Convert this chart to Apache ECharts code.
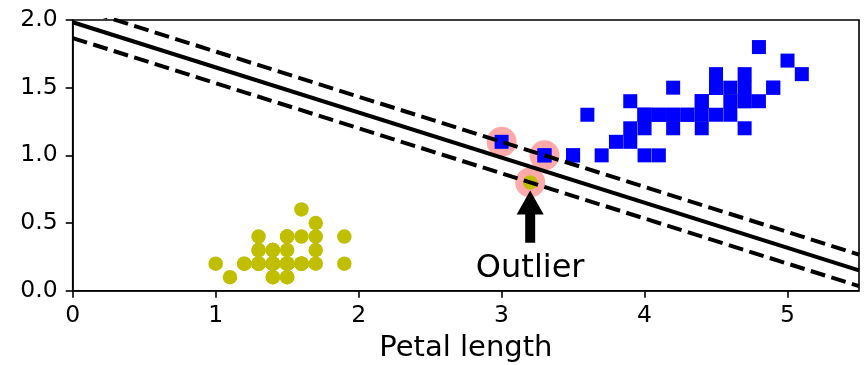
<!DOCTYPE html>
<html>
<head>
<meta charset="utf-8">
<script src="https://cdn.jsdelivr.net/npm/echarts@6/dist/echarts.min.js"></script>
<style>
  html, body { margin: 0; padding: 0; background: #ffffff; }
  #chart { width: 867px; height: 365px; }
</style>
</head>
<body>
<div id="chart"></div>
<script>
// Iris setosa: petal length / petal width (cm)
const setosaLength = [1.4,1.4,1.3,1.5,1.4,1.7,1.4,1.5,1.4,1.5,1.5,1.6,1.4,1.1,1.2,1.5,1.3,1.4,1.7,1.5,
                      1.7,1.5,1.0,1.7,1.9,1.6,1.6,1.5,1.4,1.6,1.6,1.5,1.5,1.4,1.5,1.2,1.3,1.4,1.3,1.5,
                      1.3,1.3,1.3,1.6,1.9,1.4,1.6,1.4,1.5,1.4];
const setosaWidth  = [0.2,0.2,0.2,0.2,0.2,0.4,0.3,0.2,0.2,0.1,0.2,0.2,0.1,0.1,0.2,0.4,0.4,0.3,0.3,0.3,
                      0.2,0.4,0.2,0.5,0.2,0.2,0.4,0.2,0.2,0.2,0.2,0.4,0.1,0.2,0.2,0.2,0.2,0.1,0.2,0.2,
                      0.3,0.3,0.2,0.6,0.4,0.3,0.2,0.2,0.2,0.2];

// Iris versicolor: petal length / petal width (cm)
const versicolorLength = [4.7,4.5,4.9,4.0,4.6,4.5,4.7,3.3,4.6,3.9,3.5,4.2,4.0,4.7,3.6,4.4,4.5,4.1,4.5,3.9,
                          4.8,4.0,4.9,4.7,4.3,4.4,4.8,5.0,4.5,3.5,3.8,3.7,3.9,5.1,4.5,4.5,4.7,4.4,4.1,4.0,
                          4.4,4.6,4.0,3.3,4.2,4.2,4.2,4.3,3.0,4.1];
const versicolorWidth  = [1.4,1.5,1.5,1.3,1.5,1.3,1.6,1.0,1.3,1.4,1.0,1.5,1.0,1.4,1.3,1.4,1.5,1.0,1.5,1.1,
                          1.8,1.3,1.5,1.2,1.3,1.4,1.4,1.7,1.5,1.0,1.1,1.0,1.2,1.6,1.5,1.6,1.5,1.3,1.3,1.3,
                          1.2,1.4,1.2,1.0,1.3,1.2,1.3,1.3,1.1,1.3];

// Extra point labelled as setosa
const outlier = [3.2, 0.8];

// Support vectors of the hard-margin linear SVM
const supportVectors = [[3.0, 1.1], [3.3, 1.0], [3.2, 0.8]];

// Linear SVM weights: w0*x + w1*y + b = 0 (boundary), = +/-1 (margins)
const svmW = [2.857, 8.571];
const svmB = -17.0;

// Annotation
const annotationText = 'Outlier';
const annotationTextPos = [3.2, 0.08];
const arrowTail = [3.2, 0.355];
const arrowTip = [3.2, 0.74];

// Axis ranges and ticks
const xRange = [0, 5.5];
const yRange = [0, 2.0];
const xTicks = [0, 1, 2, 3, 4, 5];
const yTicks = [0, 0.5, 1.0, 1.5, 2.0];

const FONT = 'DejaVu Sans';

function zip(a, b) { return a.map((v, i) => [v, b[i]]); }
function lineAt(offset) {
  // y such that w0*x + w1*y + b = offset, evaluated at the x-range ends
  return xRange.map(x => [x, (offset - svmB - svmW[0] * x) / svmW[1]]);
}

const chart = echarts.init(document.getElementById('chart'), null, { renderer: 'canvas' });

const axisCommon = {
  axisLine: { show: true, onZero: false, lineStyle: { color: '#000', width: 1.6 } },
  axisTick: { show: true, inside: false, length: 7, lineStyle: { color: '#000', width: 1.6 } },
  splitLine: { show: false },
};

chart.setOption({
  animation: false,
  backgroundColor: '#ffffff',
  grid: {
    left: 72.7, right: 8, top: 20, bottom: 74.3,
    containLabel: false, outerBoundsMode: 'none',
    show: true, borderColor: '#000', borderWidth: 1.6, backgroundColor: 'transparent'
  },
  xAxis: Object.assign({
    type: 'value', min: xRange[0], max: xRange[1], interval: 1,
    name: 'Petal length', nameLocation: 'middle', nameGap: 43,
    nameTextStyle: { fontFamily: FONT, fontSize: 29, color: '#000' },
    axisLabel: {
      customValues: xTicks, fontFamily: FONT, fontSize: 23.5, color: '#000', margin: 13,
      formatter: v => String(v)
    },
  }, axisCommon, {
    axisTick: Object.assign({}, axisCommon.axisTick, { customValues: xTicks })
  }),
  yAxis: Object.assign({
    type: 'value', min: yRange[0], max: yRange[1], interval: 0.5,
    axisLabel: {
      customValues: yTicks, fontFamily: FONT, fontSize: 23.5, color: '#000', margin: 15,
      formatter: v => v.toFixed(1)
    },
  }, axisCommon, {
    axisTick: Object.assign({}, axisCommon.axisTick, { customValues: yTicks })
  }),
  series: [
    {
      name: 'support vectors', type: 'scatter', z: 1,
      data: supportVectors, symbol: 'circle', symbolSize: 30,
      itemStyle: { color: '#FFAAAA', opacity: 1 }, silent: true
    },
    {
      name: 'versicolor', type: 'scatter', z: 2,
      data: zip(versicolorLength, versicolorWidth), symbol: 'rect', symbolSize: 14,
      itemStyle: { color: '#0000ff', opacity: 1 }, silent: true
    },
    {
      name: 'setosa', type: 'scatter', z: 2,
      data: zip(setosaLength, setosaWidth).concat([outlier]), symbol: 'circle', symbolSize: 14.5,
      itemStyle: { color: '#bfbf00', opacity: 1 }, silent: true
    },
    {
      name: 'decision boundary', type: 'line', z: 3, clip: true,
      data: lineAt(0), symbol: 'none', silent: true,
      lineStyle: { color: '#000', width: 4, type: 'solid' }
    },
    {
      name: 'upper margin', type: 'line', z: 3, clip: true,
      data: lineAt(1), symbol: 'none', silent: true,
      lineStyle: { color: '#000', width: 4, type: [15, 6.5], cap: 'butt' }
    },
    {
      name: 'lower margin', type: 'line', z: 3, clip: true,
      data: lineAt(-1), symbol: 'none', silent: true,
      lineStyle: { color: '#000', width: 4, type: [15, 6.5], cap: 'butt' }
    },
    {
      name: 'annotation', type: 'custom', z: 4, silent: true, clip: false,
      data: [[arrowTail[0], arrowTail[1], arrowTip[0], arrowTip[1], annotationTextPos[0], annotationTextPos[1]]],
      renderItem: function (params, api) {
        const p0 = api.coord([api.value(0), api.value(1)]);
        const p1 = api.coord([api.value(2), api.value(3)]);
        const pt = api.coord([api.value(4), api.value(5)]);
        const headLen = 24, headW = 27, shaftW = 10;
        const dx = p1[0] - p0[0], dy = p1[1] - p0[1];
        const len = Math.sqrt(dx * dx + dy * dy);
        const ux = dx / len, uy = dy / len;     // along arrow
        const nx = -uy, ny = ux;                // normal
        const bx = p1[0] - ux * headLen, by = p1[1] - uy * headLen;
        const pts = [
          [p0[0] + nx * shaftW / 2, p0[1] + ny * shaftW / 2],
          [bx + nx * shaftW / 2, by + ny * shaftW / 2],
          [bx + nx * headW / 2, by + ny * headW / 2],
          [p1[0], p1[1]],
          [bx - nx * headW / 2, by - ny * headW / 2],
          [bx - nx * shaftW / 2, by - ny * shaftW / 2],
          [p0[0] - nx * shaftW / 2, p0[1] - ny * shaftW / 2]
        ];
        const fontSize = 32;
        return {
          type: 'group',
          children: [
            { type: 'polygon', shape: { points: pts }, style: { fill: '#000' } },
            {
              // text anchored on its baseline at the data position
              type: 'text', x: pt[0], y: pt[1] - 0.35 * fontSize,
              style: {
                text: annotationText, fontFamily: FONT, fontSize: fontSize, fill: '#000',
                align: 'center', verticalAlign: 'middle'
              }
            }
          ]
        };
      }
    }
  ]
});
</script>
</body>
</html>
